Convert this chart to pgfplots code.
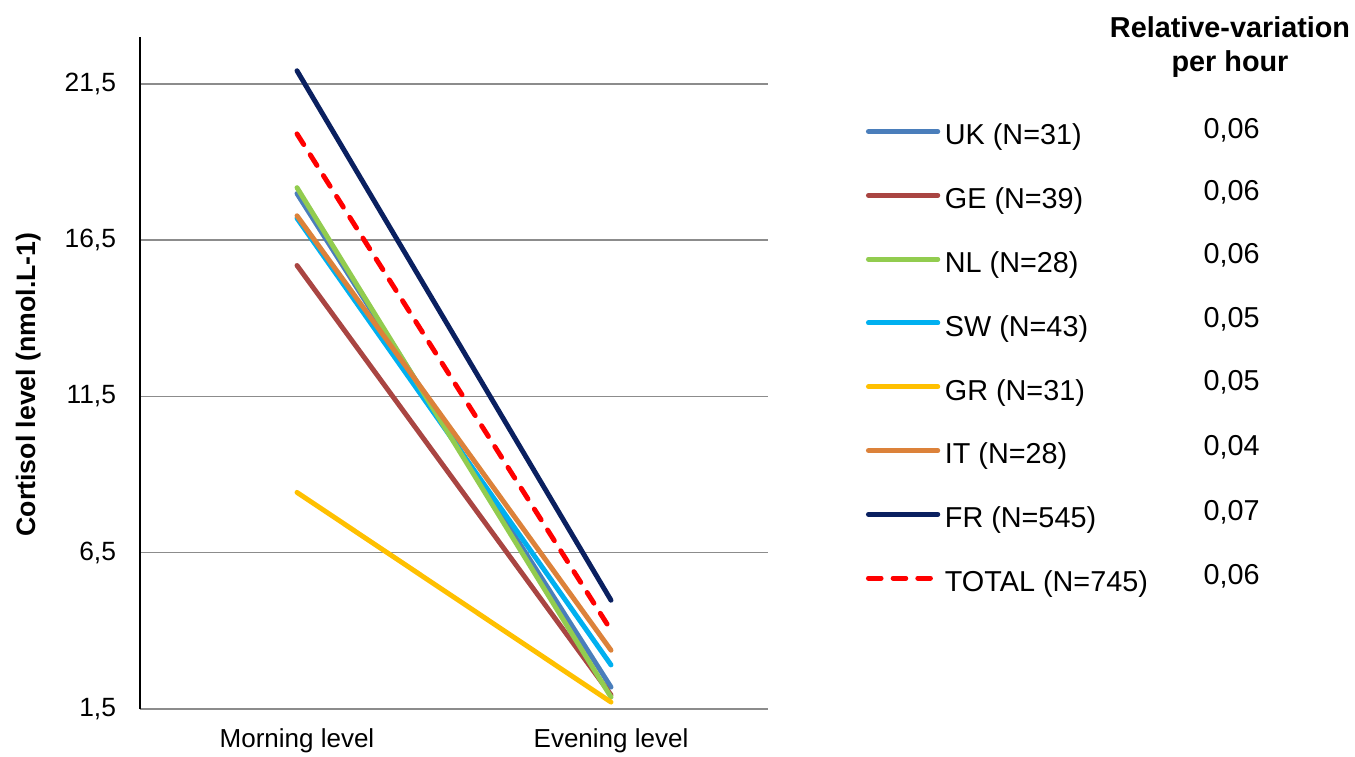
\documentclass[border=0pt]{standalone}
\usepackage{fontspec}
\setmainfont{Liberation Sans}
\usepackage{pgfplots}
\pgfplotsset{compat=1.18}
\definecolor{cUK}{HTML}{4A7EBB}
\definecolor{cGE}{HTML}{A94542}
\definecolor{cNL}{HTML}{92CC4F}
\definecolor{cSW}{HTML}{00B0F0}
\definecolor{cGR}{HTML}{FFC000}
\definecolor{cIT}{HTML}{DC823A}
\definecolor{cFR}{HTML}{0A2060}
\definecolor{cTOT}{HTML}{FF0000}
\definecolor{gridgray}{HTML}{8C8C8C}
\begin{document}
\begin{tikzpicture}
\useasboundingbox (0,0) rectangle (1016.25pt,567pt);
\begin{axis}[
  at={(105pt,35.25pt)}, anchor=south west,
  width=471pt, height=504pt, scale only axis,
  xmin=-0.5, xmax=1.5, ymin=1.5, ymax=23,
  xtick={0,1}, xticklabels={Morning level, Evening level},
  ytick={1.5,6.5,11.5,16.5,21.5},
  y tick label style={/pgf/number format/.cd, use comma, fixed, fixed zerofill, precision=1, /tikz/.cd, xshift=-14.5pt, font=\fontsize{19.8}{24}\selectfont},
  x tick label style={yshift=-11.5pt, font=\fontsize{19.5}{24}\selectfont},
  /pgf/number format/assume math mode=true,
  tick label style={text=black},
  ymajorgrids, grid style={color=gridgray, line width=1.1pt},
  axis x line*=bottom, axis y line*=left,
  x axis line style={gridgray, line width=1.1pt, -},
  y axis line style={black, line width=0.9pt, -},
  major tick length=0pt,
  ylabel={Cortisol level (nmol.L-1)},
  ylabel style={at={(axis description cs:-0.178,0.483)}, anchor=center, font=\bfseries\fontsize{20}{24}\selectfont},
  clip=false,
  legend style={at={(axis description cs:1.156,0.863)}, anchor=north west,
    draw=none, fill=none, inner sep=0pt, outer sep=0pt,
    font=\fontsize{21.6}{26}\selectfont,
    row sep=33.5pt,
    nodes={inner ysep=0pt, inner xsep=3.5pt, text height=0.75em, text depth=0.25em}},
  legend cell align=left,
  legend image code/.code={\draw[#1] (0pt,7.5pt) -- (52pt,7.5pt);},
  every axis plot/.append style={line width=3.7pt, line cap=round},
]
\addplot[cUK] coordinates {(0,17.99) (1,2.20)};
\addlegendentry{UK (N=31)}
\addplot[cGE] coordinates {(0,15.69) (1,1.95)};
\addlegendentry{GE (N=39)}
\addplot[cSW, forget plot] coordinates {(0,17.20) (1,2.91)};
\addplot[cNL] coordinates {(0,18.18) (1,1.88)};
\addlegendentry{NL (N=28)}
\addlegendimage{cSW, line width=3.7pt, line cap=round}
\addlegendentry{SW (N=43)}
\addplot[cGR] coordinates {(0,8.43) (1,1.72)};
\addlegendentry{GR (N=31)}
\addplot[cIT] coordinates {(0,17.28) (1,3.38)};
\addlegendentry{IT (N=28)}
\addplot[cFR] coordinates {(0,21.92) (1,4.98)};
\addlegendentry{FR (N=545)}
\addplot[cTOT, dash pattern=on 9.5pt off 9pt] coordinates {(0,19.90) (1,4.02)};
\addlegendentry{TOTAL (N=745)}
\node[align=center, font=\bfseries\fontsize{21.6}{25.5}\selectfont] at (axis description cs:1.7357,0.985) {Relative-variation\\per hour};
\node[anchor=west, font=\fontsize{21.6}{26}\selectfont] at (axis description cs:1.686,0.8616) {0,06};
\node[anchor=west, font=\fontsize{21.6}{26}\selectfont] at (axis description cs:1.686,0.7693) {0,06};
\node[anchor=west, font=\fontsize{21.6}{26}\selectfont] at (axis description cs:1.686,0.6756) {0,06};
\node[anchor=west, font=\fontsize{21.6}{26}\selectfont] at (axis description cs:1.686,0.5803) {0,05};
\node[anchor=west, font=\fontsize{21.6}{26}\selectfont] at (axis description cs:1.686,0.4866) {0,05};
\node[anchor=west, font=\fontsize{21.6}{26}\selectfont] at (axis description cs:1.686,0.3899) {0,04};
\node[anchor=west, font=\fontsize{21.6}{26}\selectfont] at (axis description cs:1.686,0.2931) {0,07};
\node[anchor=west, font=\fontsize{21.6}{26}\selectfont] at (axis description cs:1.686,0.1979) {0,06};
\end{axis}
\end{tikzpicture}
\end{document}
